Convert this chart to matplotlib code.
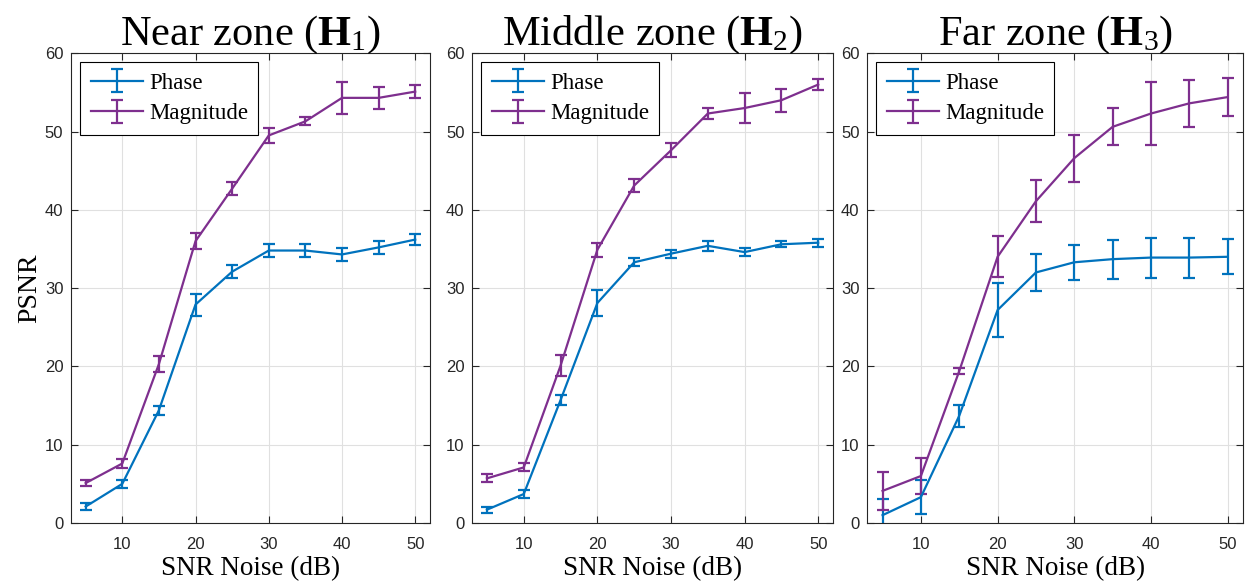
import matplotlib.pyplot as plt
import numpy as np

plt.rcParams['font.family'] = ['Liberation Serif', 'DejaVu Serif']
plt.rcParams['mathtext.fontset'] = 'custom'
plt.rcParams['mathtext.rm'] = 'Liberation Serif'
plt.rcParams['mathtext.bf'] = 'Liberation Serif:bold'
plt.rcParams['mathtext.it'] = 'Liberation Serif:italic'

snr = [5, 10, 15, 20, 25, 30, 35, 40, 45, 50]

titles = [r'Near zone ($\mathbf{H}_1$)', r'Middle zone ($\mathbf{H}_2$)', r'Far zone ($\mathbf{H}_3$)']

phase_mean = [
    [2.1, 5.0, 14.4, 27.9, 32.1, 34.8, 34.8, 34.3, 35.2, 36.2],
    [1.7, 3.7, 15.7, 28.1, 33.3, 34.4, 35.4, 34.6, 35.6, 35.8],
    [1.0, 3.3, 13.7, 27.2, 32.0, 33.3, 33.7, 33.9, 33.9, 34.0],
]
phase_err = [
    [0.5, 0.5, 0.6, 1.4, 0.8, 0.8, 0.8, 0.8, 0.8, 0.7],
    [0.4, 0.5, 0.6, 1.6, 0.5, 0.5, 0.6, 0.5, 0.4, 0.5],
    [2.1, 2.2, 1.4, 3.4, 2.4, 2.2, 2.5, 2.55, 2.55, 2.25],
]
mag_mean = [
    [5.1, 7.6, 20.3, 36.0, 42.7, 49.5, 51.3, 54.3, 54.3, 55.1],
    [5.7, 7.1, 20.1, 34.9, 43.1, 47.6, 52.3, 53.0, 54.0, 56.0],
    [4.1, 6.0, 19.4, 34.0, 41.1, 46.6, 50.6, 52.3, 53.6, 54.4],
]
mag_err = [
    [0.4, 0.6, 1.0, 1.0, 0.85, 1.0, 0.5, 2.0, 1.4, 0.8],
    [0.5, 0.5, 1.3, 0.9, 0.8, 0.9, 0.7, 1.9, 1.45, 0.65],
    [2.4, 2.35, 0.4, 2.6, 2.65, 3.0, 2.35, 4.0, 3.0, 2.4],
]

blue = '#0072BD'
purple = '#7E2F8E'
axis_col = '#262626'

positions = [
    [0.057, 0.106, 0.288, 0.803],
    [0.379, 0.106, 0.2895, 0.803],
    [0.696, 0.106, 0.3016, 0.803],
]

fig = plt.figure(figsize=(12.46, 5.85), dpi=100)

for i in range(3):
    ax = fig.add_axes(positions[i])
    ax.errorbar(snr, phase_mean[i], yerr=phase_err[i], color=blue, lw=1.6,
                capsize=4, capthick=1.6, elinewidth=1.6, label='Phase')
    ax.errorbar(snr, mag_mean[i], yerr=mag_err[i], color=purple, lw=1.6,
                capsize=4, capthick=1.6, elinewidth=1.6, label='Magnitude')
    ax.set_xlim(3, 52)
    ax.set_ylim(0, 60)
    ax.set_xticks([10, 20, 30, 40, 50])
    ax.set_yticks([0, 10, 20, 30, 40, 50, 60])
    ax.grid(True, color='#e0e0e0', lw=0.8)
    ax.set_axisbelow(True)
    ax.tick_params(direction='in', top=True, right=True, colors=axis_col,
                   length=5, width=0.8)
    ax.tick_params(axis='x', pad=10)
    ax.tick_params(axis='y', pad=5.5)
    for lab in ax.get_xticklabels() + ax.get_yticklabels():
        lab.set_family(['Liberation Sans', 'DejaVu Sans'])
        lab.set_fontsize(12)
    for s in ax.spines.values():
        s.set_color(axis_col)
        s.set_linewidth(0.8)
    ax.set_title(titles[i], fontsize=30.5, pad=6)
    ax.set_xlabel('SNR Noise (dB)', fontsize=19.5, labelpad=3)
    if i == 0:
        ax.set_ylabel('PSNR', fontsize=20, labelpad=2)
    leg = ax.legend(loc='upper left', fontsize=16.5, fancybox=False, framealpha=1,
                    edgecolor='black', borderaxespad=0.4, handlelength=2.3,
                    borderpad=0.45, labelspacing=0.42, handletextpad=0.25)
    leg.get_frame().set_linewidth(0.8)

fig.savefig('out.png', dpi=100)
